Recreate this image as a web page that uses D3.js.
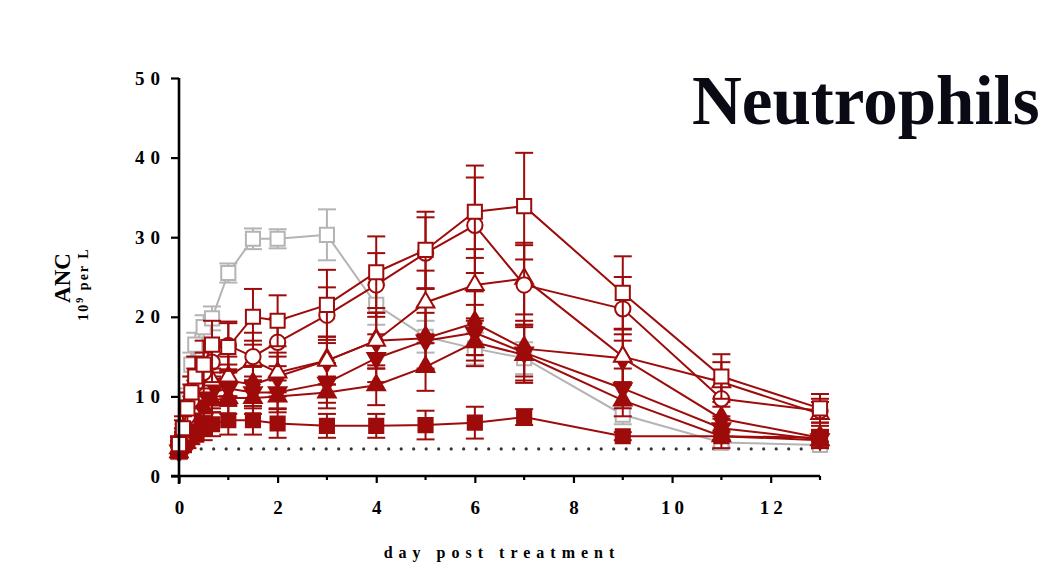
<!DOCTYPE html>
<html lang="en">
<head>
    <meta charset="UTF-8">
    <title>Neutrophils</title>
    <script src="https://cdnjs.cloudflare.com/ajax/libs/d3/7.8.5/d3.min.js"></script>
    <style>
        body { margin: 0; background: #fff; }
        text { font-family: "Liberation Serif", "Times New Roman", serif; font-weight: bold; }
    </style>
</head>
<body>
    <script type="text/javascript">
        const width = 1056;
        const height = 570;

        // sampling days
        const days = [0, 0.08, 0.17, 0.25, 0.33, 0.5, 0.67, 1, 1.5, 2, 3, 4, 5, 6, 7, 9, 11, 13];

        // control (grey open squares)
        const ctrlMean = [3.0, 5.5, 9.5, 14.0, 16.5, 18.7, 19.8, 25.5, 29.8, 29.8, 30.3, 21.5, 17.5, 16.0, 14.8, 7.7, 4.2, 3.9];
        const ctrlErr  = [0.5, 1, 1.5, 1.5, 1.5, 1.5, 1.5, 1.2, 1.3, 1.2, 3.2, 2.5, 2, 2, 2, 1.2, 0.5, 0.5];

        // treated groups (dark red)
        const openSqMean = [4.0, 6.0, 8.5, 10.5, 12.5, 14.0, 16.5, 16.2, 20.0, 19.5, 21.5, 25.6, 28.4, 33.2, 33.9, 23.0, 12.5, 8.5];
        const openSqErr  = [1, 1.5, 2, 2, 2.5, 3, 3, 3, 3.5, 3.2, 4.4, 4.5, 4.8, 5.8, 6.7, 4.6, 2.8, 1.8];
        const openCircMean = [3.8, 5.5, 7.5, 9.5, 11.5, 13.0, 14.3, 16.4, 15.0, 16.8, 20.2, 24.0, 28.0, 31.5, 24.0, 21.0, 9.7, 8.2];
        const openCircErr  = [1, 1.5, 2, 2, 2, 2.5, 2.5, 3, 3, 3, 3.5, 4, 4.5, 6, 5, 4, 2.5, 1.5];
        const openTriMean = [3.5, 5.0, 7.0, 8.5, 10.0, 11.0, 12.0, 12.5, 14.5, 13.0, 14.5, 17.0, 21.8, 24.0, 24.8, 15.0, 11.8, 7.8];
        const openTriErr  = [1, 1, 1.5, 1.5, 2, 2, 2, 2.5, 2.5, 2.5, 3, 3.5, 4, 4.5, 4.5, 3.5, 2.5, 1.5];
        const diamondMean = [3.3, 4.5, 6.0, 7.5, 8.5, 10.0, 11.0, 12.0, 11.5, 12.5, 14.5, 17.0, 17.3, 19.2, 16.0, 14.8, 7.2, 4.8];
        const diamondErr  = [0.8, 1, 1.5, 1.5, 2, 2, 2, 2, 2.2, 2.5, 3, 3.5, 4, 4, 3.5, 3, 1.5, 1];
        const invTriMean = [3.2, 4.2, 5.5, 7.0, 8.0, 9.5, 10.5, 11.0, 10.5, 10.5, 11.7, 14.8, 17.0, 18.0, 15.5, 11.0, 6.0, 4.6];
        const invTriErr  = [0.8, 1, 1.2, 1.5, 1.5, 2, 2, 2, 2, 2, 2.5, 3, 3.5, 3.5, 3.5, 2.5, 1.5, 1];
        const filledTriMean = [3.0, 4.0, 5.0, 6.5, 7.5, 8.5, 9.5, 9.8, 9.8, 10.0, 10.5, 11.4, 13.7, 16.8, 15.2, 9.5, 5.0, 4.5];
        const filledTriErr  = [0.8, 1, 1, 1.5, 1.5, 1.5, 1.5, 2, 2, 2, 2, 2.5, 3, 3, 3.5, 2, 1.5, 1];
        const filledSqMean = [3.5, 4.0, 4.5, 5.0, 5.5, 6.0, 6.5, 7.0, 7.0, 6.6, 6.3, 6.3, 6.4, 6.7, 7.4, 5.0, 5.0, 4.8];
        const filledSqErr  = [0.8, 1, 1, 1, 1.2, 1.5, 1.5, 1.8, 1.8, 1.8, 1.5, 1.5, 1.8, 2, 1, 0.5, 0.5, 0.5];

        const lowerLimit = 3.4;
        const xTicks = [0, 2, 4, 6, 8, 10, 12];
        const xMinor = [1, 3, 5, 7, 9, 11, 13];
        const yTicks = [0, 10, 20, 30, 40, 50];

        const red = "#9e0b0b";
        const grey = "#b4b4b4";

        // drawn back to front
        const groups = [
            { mean: ctrlMean, err: ctrlErr, color: grey, shape: "square", open: true },
            { mean: filledSqMean, err: filledSqErr, color: red, shape: "square", open: false },
            { mean: filledTriMean, err: filledTriErr, color: red, shape: "triangle", open: false },
            { mean: invTriMean, err: invTriErr, color: red, shape: "invtriangle", open: false },
            { mean: diamondMean, err: diamondErr, color: red, shape: "diamond", open: false },
            { mean: openTriMean, err: openTriErr, color: red, shape: "triangle", open: true },
            { mean: openCircMean, err: openCircErr, color: red, shape: "circle", open: true },
            { mean: openSqMean, err: openSqErr, color: red, shape: "square", open: true }
        ];

        const xScale = d3.scaleLinear().domain([0, 13]).range([179, 820]);
        const yScale = d3.scaleLinear().domain([0, 50]).range([476, 78]);

        const svg = d3.select("body").append("svg")
            .attr("width", width)
            .attr("height", height);

        // dotted detection limit
        svg.append("line")
            .attr("x1", xScale(0.45)).attr("x2", xScale(13))
            .attr("y1", yScale(lowerLimit)).attr("y2", yScale(lowerLimit))
            .attr("stroke", "#333")
            .attr("stroke-width", 3.2)
            .attr("stroke-linecap", "round")
            .attr("stroke-dasharray", "0 12.5");

        const line = d3.line()
            .x(function(d) { return xScale(d[0]); })
            .y(function(d) { return yScale(d[1]); });

        function markerPath(shape) {
            if (shape === "square") return d3.symbol().type(d3.symbolSquare).size(200)();
            if (shape === "circle") return d3.symbol().type(d3.symbolCircle).size(185)();
            if (shape === "diamond") return d3.symbol().type(d3.symbolDiamond).size(160)();
            return d3.symbol().type(d3.symbolTriangle).size(135)();
        }

        groups.forEach(function(g) {
            const pts = days.map(function(day, i) { return [day, g.mean[i], g.err[i]]; });
            const layer = svg.append("g");

            const bars = layer.selectAll(".err")
                .data(pts)
                .enter()
                .append("g")
                .attr("stroke", g.color)
                .attr("stroke-width", 2);
            bars.append("line")
                .attr("x1", function(d) { return xScale(d[0]); })
                .attr("x2", function(d) { return xScale(d[0]); })
                .attr("y1", function(d) { return yScale(d[1] - d[2]); })
                .attr("y2", function(d) { return yScale(d[1] + d[2]); });
            [-1, 1].forEach(function(s) {
                bars.append("line")
                    .attr("x1", function(d) { return xScale(d[0]) - 9; })
                    .attr("x2", function(d) { return xScale(d[0]) + 9; })
                    .attr("y1", function(d) { return yScale(d[1] + s * d[2]); })
                    .attr("y2", function(d) { return yScale(d[1] + s * d[2]); });
            });

            layer.append("path")
                .datum(pts)
                .attr("d", line)
                .attr("fill", "none")
                .attr("stroke", g.color)
                .attr("stroke-width", 2);

            layer.selectAll(".mk")
                .data(pts)
                .enter()
                .append("path")
                .attr("d", markerPath(g.shape))
                .attr("transform", function(d) {
                    const rot = g.shape === "invtriangle" ? " rotate(180)" : "";
                    return "translate(" + xScale(d[0]) + "," + yScale(d[1]) + ")" + rot;
                })
                .attr("fill", g.open ? "#fff" : g.color)
                .attr("stroke", g.color)
                .attr("stroke-width", 2);
        });

        // axes
        const xAxis = d3.axisBottom(xScale).tickValues(xTicks).tickSize(7).tickFormat(d3.format("d"));
        const yAxis = d3.axisLeft(yScale).tickValues(yTicks).tickSize(8).tickFormat(d3.format("d"));

        const gx = svg.append("g")
            .attr("transform", "translate(0," + yScale(0) + ")")
            .call(xAxis);
        gx.select(".domain").attr("d", "M" + (xScale(0) - 8) + ",0H" + xScale(13));
        gx.selectAll(".tick line").attr("stroke-width", 2.2);
        gx.selectAll(".tick text")
            .attr("y", 25)
            .attr("dx", "2px")
            .attr("font-size", 19)
            .style("letter-spacing", "4px")
            .attr("font-family", "Liberation Serif")
            .attr("font-weight", "bold");
        gx.selectAll(".minor")
            .data(xMinor)
            .enter()
            .append("line")
            .attr("x1", function(d) { return xScale(d); })
            .attr("x2", function(d) { return xScale(d); })
            .attr("y1", 0).attr("y2", 4)
            .attr("stroke", "#000")
            .attr("stroke-width", 2.2);

        const gy = svg.append("g")
            .attr("transform", "translate(" + xScale(0) + ",0)")
            .call(yAxis);
        gy.select(".domain").attr("d", "M0," + yScale(50) + "V" + (yScale(0) + 8));
        gy.selectAll(".tick line").attr("stroke-width", 2.2);
        gy.selectAll(".tick text")
            .attr("x", -13)
            .attr("font-size", 19)
            .style("letter-spacing", "6px")
            .attr("font-family", "Liberation Serif")
            .attr("font-weight", "bold");
        svg.selectAll(".domain").attr("stroke-width", 2.6);

        // axis titles
        svg.append("text")
            .attr("transform", "translate(70,278) rotate(-90)")
            .attr("text-anchor", "middle")
            .attr("font-size", 23)
            .text("ANC");
        const unit = svg.append("text")
            .attr("transform", "translate(88,284) rotate(-90)")
            .attr("text-anchor", "middle")
            .attr("font-size", 14)
            .style("letter-spacing", "2px");
        unit.append("tspan").text("10");
        unit.append("tspan").attr("dy", -5).attr("font-size", 10).text("9");
        unit.append("tspan").attr("dy", 5).text(" per L");

        svg.append("text")
            .attr("x", 502)
            .attr("y", 558)
            .attr("text-anchor", "middle")
            .attr("font-size", 16)
            .style("letter-spacing", "6px")
            .text("day post treatment");

        svg.append("text")
            .attr("x", 692)
            .attr("y", 124)
            .attr("font-size", 69)
            .attr("fill", "#0a0a14")
            .text("Neutrophils");
    </script>
</body>
</html>
